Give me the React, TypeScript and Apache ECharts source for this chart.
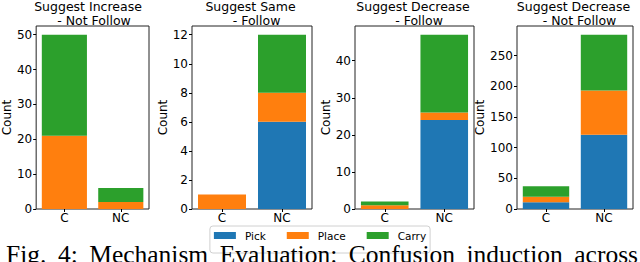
import React, { useEffect, useRef } from 'react';
import * as echarts from 'echarts';

const categories = ['C', 'NC'];
const seriesNames = ['Pick', 'Place', 'Carry'];
const seriesColors = ['#1f77b4', '#ff7f0e', '#2ca02c'];
const titleLine1 = ['Suggest Increase', 'Suggest Same', 'Suggest Decrease', 'Suggest Decrease'];
const titleLine2 = ['- Not Follow', '- Follow', '- Follow', '- Not Follow'];
const pickValues = [[0, 0], [0, 6], [0, 24], [11, 121]];
const placeValues = [[21, 2], [1, 2], [1, 2], [9, 72]];
const carryValues = [[29, 4], [0, 4], [1, 21], [17, 91]];
const tickIntervals = [10, 2, 10, 50];
const yLabel = 'Count';
const caption = 'Fig. 4: Mechanism Evaluation: Confusion induction across';

const gridLefts = [30, 192, 355, 517];
const gridWidths = [119, 120, 119, 116];
const nameGaps = [19, 19, 19, 26];
const GRID_TOP = 26;
const GRID_H = 183;
const FONT = 'DejaVu Sans';

export default function App() {
  const ref = useRef<HTMLDivElement>(null);
  useEffect(() => {
    if (!ref.current) return;
    const chart = echarts.init(ref.current, undefined, { renderer: 'svg' });
    const valuesBySeries = [pickValues, placeValues, carryValues];

    const grids: any[] = [];
    const xAxes: any[] = [];
    const yAxes: any[] = [];
    const series: any[] = [];
    const titles: any[] = [];

    for (let p = 0; p < 4; p++) {
      grids.push({
        left: gridLefts[p], top: GRID_TOP, width: gridWidths[p], height: GRID_H,
        show: true, borderColor: '#222', borderWidth: 1, backgroundColor: '#fff',
        containLabel: false,
      });
      const totals = categories.map((_, i) => pickValues[p][i] + placeValues[p][i] + carryValues[p][i]);
      const maxTotal = Math.max(...totals);
      const iv = tickIntervals[p];
      xAxes.push({
        type: 'category', gridIndex: p, data: categories,
        axisLine: { show: false },
        axisTick: { show: true, alignWithLabel: true, length: 3, lineStyle: { color: '#000' } },
        axisLabel: { color: '#000', fontSize: 12, fontFamily: FONT, margin: 3 },
      });
      yAxes.push({
        type: 'value', gridIndex: p, min: 0, max: maxTotal * 1.05, interval: iv,
        splitLine: { show: false },
        axisLine: { show: false },
        axisTick: { show: true, length: 3, lineStyle: { color: '#000' } },
        axisLabel: {
          color: '#000', fontSize: 12, fontFamily: FONT, margin: 4, showMaxLabel: false,
          formatter: (v: number) => (Math.abs(v / iv - Math.round(v / iv)) < 1e-9 ? String(v) : ''),
        },
        name: yLabel, nameLocation: 'middle', nameGap: nameGaps[p],
        nameTextStyle: { color: '#000', fontSize: 12, fontFamily: FONT },
      });
      for (let s = 0; s < 3; s++) {
        series.push({
          type: 'bar', name: seriesNames[s], xAxisIndex: p, yAxisIndex: p,
          stack: 'panel' + p, barWidth: '80%',
          itemStyle: { color: seriesColors[s] },
          data: valuesBySeries[s][p],
        });
      }
      const cx = gridLefts[p] + gridWidths[p] / 2;
      titles.push({
        text: titleLine1[p], left: cx - 1.5, top: 0, textAlign: 'center', padding: 0,
        textStyle: { fontSize: 12.5, fontWeight: 'normal', fontFamily: FONT, color: '#000' },
      });
      titles.push({
        text: titleLine2[p], left: cx + 4.5, top: 14, textAlign: 'center', padding: 0,
        textStyle: { fontSize: 12.5, fontWeight: 'normal', fontFamily: FONT, color: '#000' },
      });
    }

    // caption, justified across the width
    const capFont = 25.5;
    const capLeft = 6;
    const capRight = 638;
    const words = caption.split(' ');
    const canvas = document.createElement('canvas');
    const ctx = canvas.getContext('2d')!;
    ctx.font = `${capFont}px "Liberation Serif"`;
    const widths = words.map((w) => ctx.measureText(w).width);
    const sumW = widths.reduce((a, b) => a + b, 0);
    const gap = (capRight - capLeft - sumW) / (words.length - 1);
    const capElems: any[] = [];
    let x = capLeft;
    words.forEach((w, i) => {
      capElems.push({
        type: 'text', x, y: 254.5, z: 100,
        style: { text: w, fontSize: capFont, fontFamily: 'Liberation Serif', fill: '#000', verticalAlign: 'middle', align: 'left' },
      });
      x += widths[i] + gap;
    });

    chart.setOption({
      animation: false,
      backgroundColor: '#fff',
      title: titles,
      grid: grids,
      xAxis: xAxes,
      yAxis: yAxes,
      series,
      legend: {
        data: seriesNames, top: 226, left: 'center', orient: 'horizontal',
        icon: 'rect', itemWidth: 22, itemHeight: 7, itemGap: 21,
        textStyle: { fontSize: 10.5, fontFamily: FONT, color: '#000', padding: [0, 0, 0, 4] },
        padding: [4, 4, 12, 4], borderColor: '#d0d0d0', borderWidth: 1, borderRadius: 3,
        backgroundColor: '#fff',
      },
      graphic: capElems,
    });
    return () => chart.dispose();
  }, []);
  return (
    <div ref={ref} style={{ position: 'fixed', left: 0, top: 0, width: 640, height: 262 }} />
  );
}
